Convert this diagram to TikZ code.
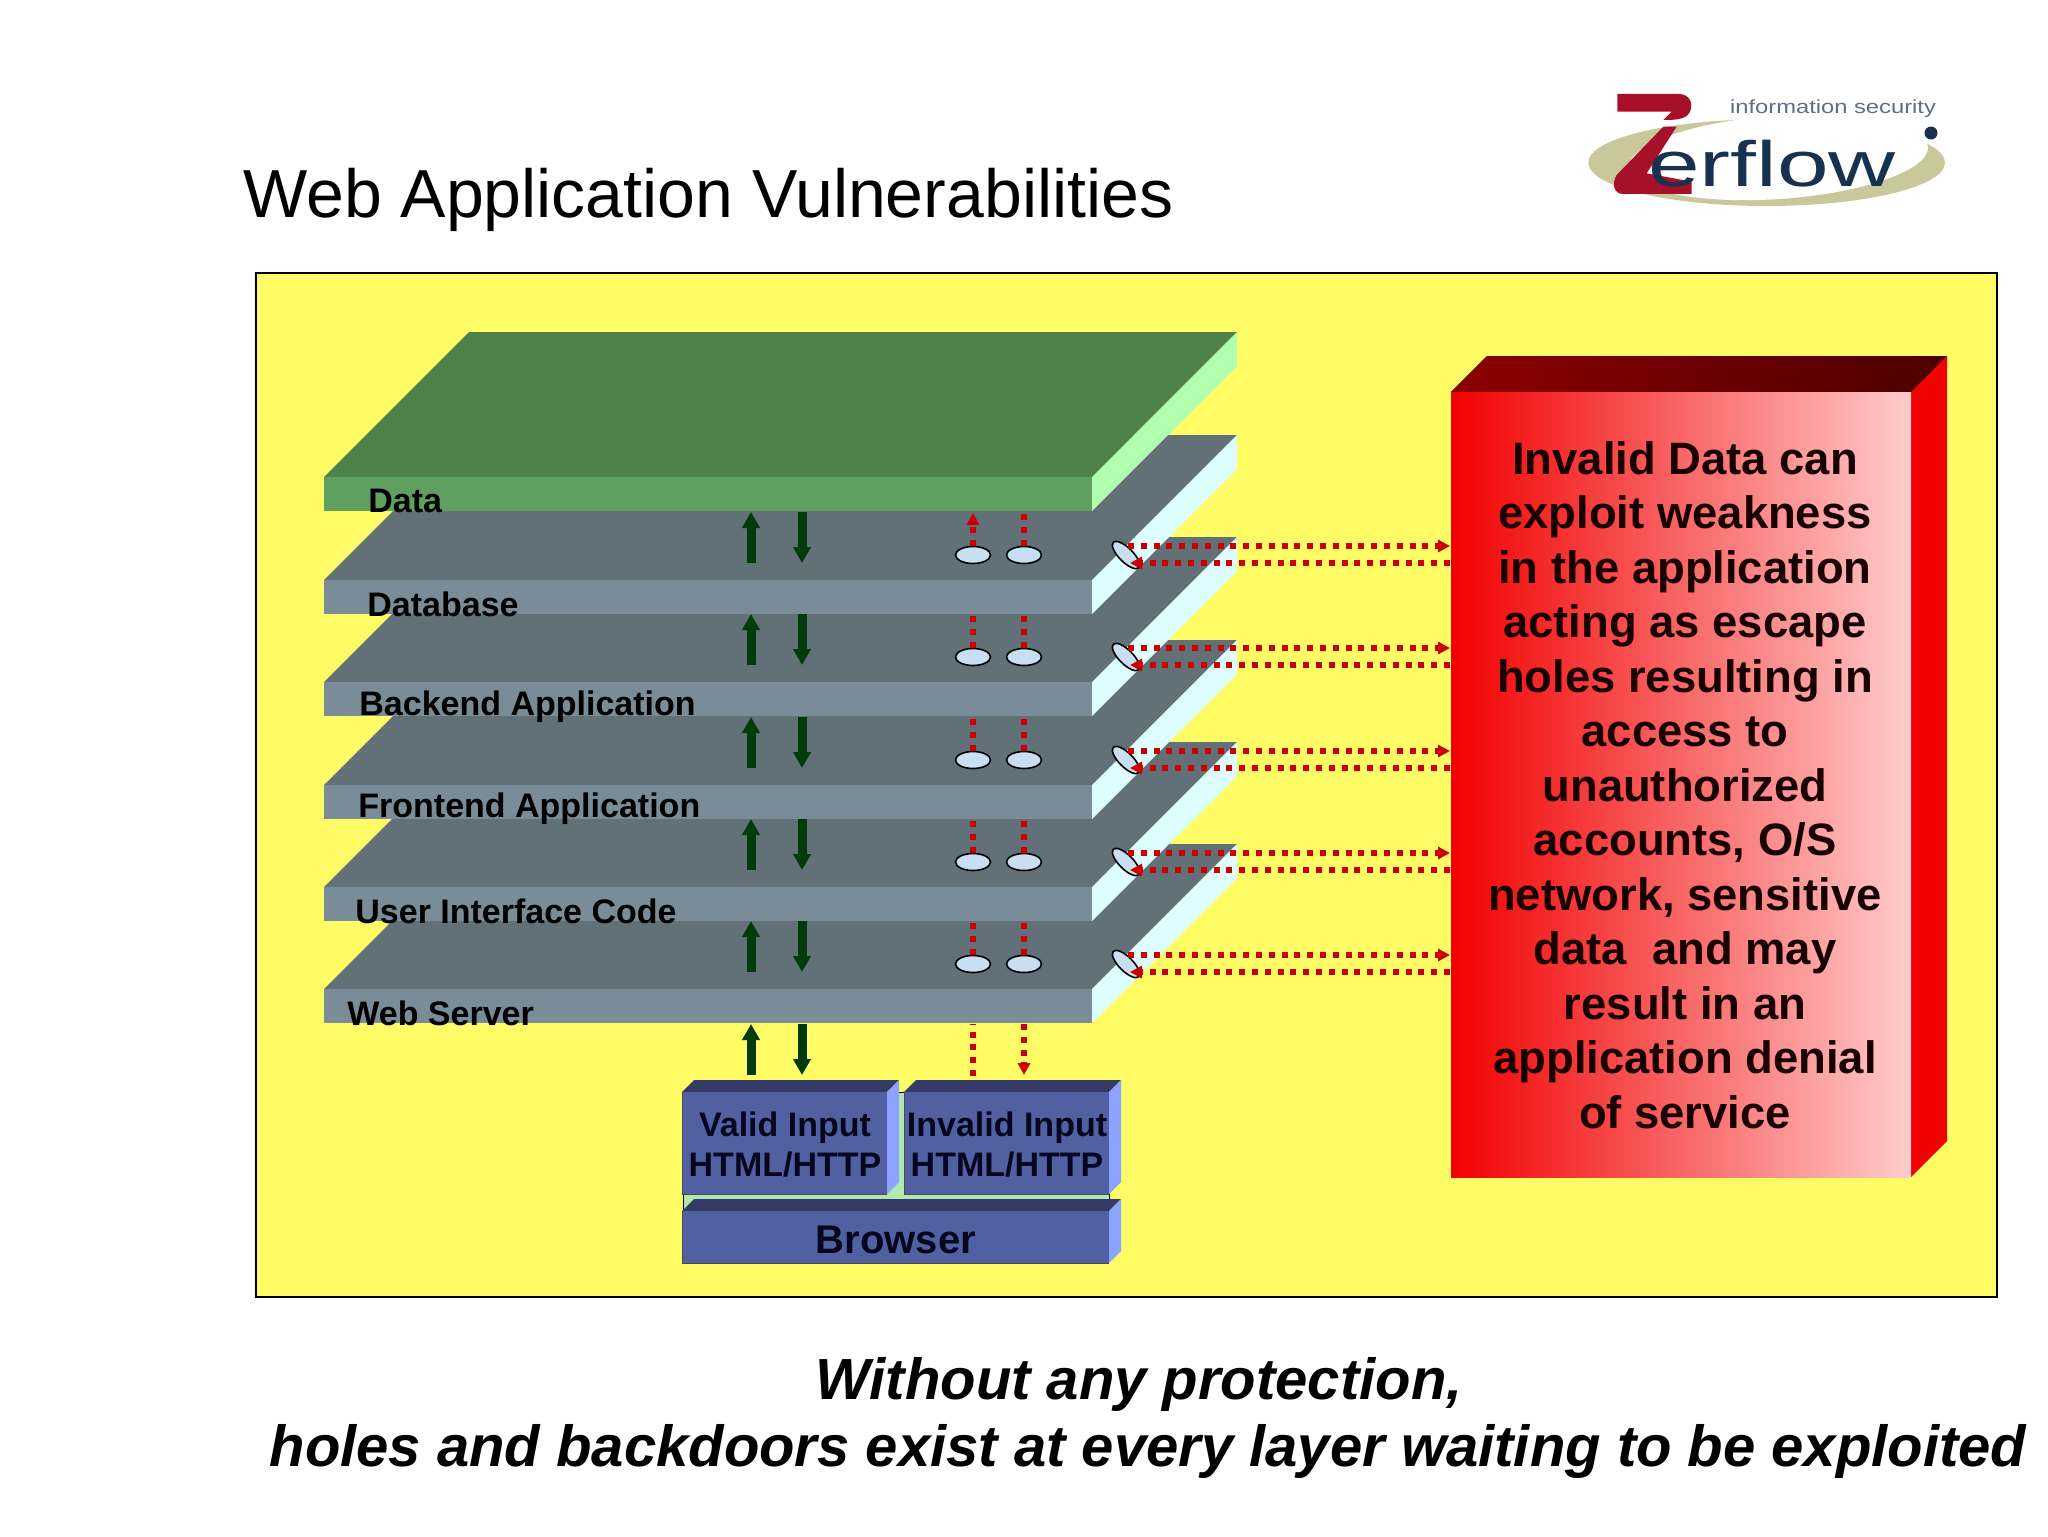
\documentclass[tikz,border=0pt]{standalone}
\usepackage{fontspec}
\setmainfont{Liberation Sans}
\usetikzlibrary{arrows.meta,positioning,shapes.geometric}
\definecolor{panelyellow}{HTML}{FFFC66}
\definecolor{slatetop}{HTML}{627078}
\definecolor{slatefront}{HTML}{7A8C98}
\definecolor{slateside}{HTML}{DDFDFF}
\definecolor{greentop}{HTML}{4E8249}
\definecolor{greenfront}{HTML}{5F9F5F}
\definecolor{greenside}{HTML}{B0FFB0}
\definecolor{goodgreen}{HTML}{003C0A}
\definecolor{badred}{HTML}{CC0000}
\definecolor{holeblue}{HTML}{C8DFF2}
\definecolor{boxfront}{HTML}{5060A0}
\definecolor{boxtop}{HTML}{333B66}
\definecolor{boxside}{HTML}{8CA4FF}
\definecolor{boxgap}{HTML}{B0E8B0}
\definecolor{boxtext}{HTML}{06061E}
\definecolor{logored}{HTML}{A8102A}
\definecolor{logonavy}{HTML}{17324F}
\definecolor{logokhaki}{HTML}{C8C89A}
\begin{document}
\begin{tikzpicture}[
  x=0.5pt, y=-0.5pt,
  layerlabel/.style={anchor=west, inner sep=0pt, font=\fontsize{17}{20}\selectfont\bfseries},
  hole/.style={ellipse, draw=black, line width=0.8pt, fill=holeblue, inner sep=0pt, minimum width=17.5pt, minimum height=8.5pt},
  sidehole/.style={hole, minimum width=18pt, minimum height=7pt, rotate=-45},
  okarr/.style={-{Triangle[length=8pt,width=8.5pt]}, line width=4.5pt, goodgreen},
  badline/.style={line width=3pt, badred, dash pattern=on 3pt off 3.4pt},
  badarr/.style={badline, -{Triangle[length=6pt,width=6pt]}},
  boxlabel/.style={inner sep=0pt, align=center, text=boxtext, font=\fontsize{17}{20}\selectfont\bfseries},
  boxedge/.style={draw=black!70, line width=0.5pt}
]
  \useasboundingbox (0,0) rectangle (2048,1536);
  \fill[white] (0,0) rectangle (2048,1536);
  \node[anchor=base west, inner sep=0pt, font=\fontsize{34}{40}\selectfont] (title) at (243,217) {Web Application Vulnerabilities};
  \draw[black, line width=1pt, fill=panelyellow] (256,273) rectangle (1997,1297);

  \foreach \y in {989,887,785,682,580} {
    \fill[slatetop] (324,\y) -- (469,\y-145) -- (1237,\y-145) -- (1092,\y) -- cycle;
    \fill[slateside] (1092,\y) -- (1237,\y-145) -- (1237,\y-111) -- (1092,\y+34) -- cycle;
    \fill[slatefront] (324,\y) rectangle (1092,\y+34);
  }
  \fill[greentop] (324,477) -- (469,332) -- (1237,332) -- (1092,477) -- cycle;
  \fill[greenside] (1092,477) -- (1237,332) -- (1237,366) -- (1092,511) -- cycle;
  \fill[greenfront] (324,477) rectangle (1092,511);

  \node[layerlabel] (data) at (368,501) {Data};
  \node[layerlabel] (database) at (367,604) {Database};
  \node[layerlabel] (backend) at (359,707) {Backend Application};
  \node[layerlabel] (frontend) at (358,809) {Frontend Application};
  \node[layerlabel] (uicode) at (355,911) {User Interface Code};
  \node[layerlabel] (webserver) at (347,1013) {Web Server};

  \foreach \i/\y in {1/512,2/614,3/717,4/819,5/921,6/1024} {
    \coordinate (upfrom\i) at (751,\y+51);
    \coordinate (upto\i) at (751,\y);
    \coordinate (downfrom\i) at (802,\y);
    \coordinate (downto\i) at (802,\y+51);
    \draw[okarr] (upfrom\i) -- (upto\i);
    \draw[okarr] (downfrom\i) -- (downto\i);
  }

  \node[draw=none, inner sep=0pt] (redface) at (1681,784.5) {};
  \foreach \i/\y in {1/555,2/657,3/760,4/862,5/964} {
    \node[hole] (holea\i) at (973,\y) {};
    \node[hole] (holeb\i) at (1024,\y) {};
    \node[sidehole] (holec\i) at (1126,\y) {};
    \coordinate (redout\i) at (1450,\y-9);
    \coordinate (redin\i) at (1450,\y+8);
    \coordinate (sideout\i) at (1128,\y-9);
    \coordinate (sidein\i) at (1130,\y+8);
    \coordinate (gapa\i) at (973,\y-42);
    \coordinate (gapb\i) at (1024,\y-42);
    \draw[badarr] (sideout\i) -- (redout\i);
    \draw[badarr] (redin\i) -- (sidein\i);
  }
  \draw[badarr] (holea1.north) -- (gapa1);
  \draw[badline] (holeb1.north) -- (gapb1);
  \foreach \i in {2,3,4,5} {
    \draw[badline] (holea\i.north) -- (gapa\i);
    \draw[badline] (holeb\i.north) -- (gapb\i);
  }
  \coordinate (reqa) at (973,1076);
  \coordinate (reqatop) at (973,1024);
  \coordinate (reqb) at (1024,1075);
  \coordinate (reqbtop) at (1024,1024);
  \draw[badline] (reqa) -- (reqatop);
  \draw[badarr] (reqbtop) -- (reqb);

  \draw[black, line width=0.5pt, fill=boxgap] (683,1092) rectangle (1109,1211);
  \foreach \l/\r/\t/\b in {682/887/1092/1194,904/1109/1092/1194,682/1109/1211/1263} {
    \fill[boxtop] (\l,\t) -- (\l+12,\t-12) -- (\r+12,\t-12) -- (\r,\t) -- cycle;
    \fill[boxside] (\r,\t) -- (\r+12,\t-12) -- (\r+12,\b-12) -- (\r,\b) -- cycle;
    \fill[boxfront] (\l,\t) rectangle (\r,\b);
    \draw[boxedge] (\l,\t) -- (\l,\b) -- (\r,\b);
  }
  \node[boxlabel] (validinput) at (785,1145) {Valid Input\\HTML/HTTP};
  \node[boxlabel] (invalidinput) at (1007,1145) {Invalid Input\\HTML/HTTP};
  \node[boxlabel, font=\fontsize{20}{24}\selectfont\bfseries] (browser) at (896,1240) {Browser};

  \fill[left color=red!55!black, right color=red!30!black] (1451,392) -- (1487,356) -- (1947,356) -- (1911,392) -- cycle;
  \fill[red!95!black] (1911,392) -- (1947,356) -- (1947,1141) -- (1911,1177) -- cycle;
  \fill[left color=red!95!black, right color=red!20] (1451,392) rectangle (1911,1177);
  \node[inner sep=0pt, align=center, font=\fontsize{22.7}{27.25}\selectfont\bfseries, text=black!90!red] (invalidnote) at (1685,785) {Invalid Data can\\exploit weakness\\in the application\\acting as escape\\holes resulting in\\access to\\unauthorized\\accounts, O/S\\network, sensitive\\data\ \ and may\\result in an\\application denial\\of service};

  \node[anchor=base, inner sep=0pt, font=\fontsize{29}{34}\selectfont\bfseries\itshape] (protectline) at (1139,1399) {Without any protection,};
  \node[anchor=base, inner sep=0pt, font=\fontsize{29}{34}\selectfont\bfseries\itshape] (holesline) at (1148,1466) {holes and backdoors exist at every layer waiting to be exploited};

  \begin{scope}[shift={(1500,70)}, scale=0.3333]
    \fill[logokhaki] (800,278) ellipse [x radius=535, y radius=130];
    \fill[white] (835,262) ellipse [x radius=450, y radius=125, rotate=4];
    \fill[logored] (352,72) -- (535,72) .. controls (570,72) and (580,100) .. (570,125) .. controls (560,150) and (520,150) .. (490,150) -- (515,125) -- (352,125) -- cycle;
    \fill[logored] (490,170) -- (530,170) -- (440,310) -- (575,335) -- (575,372) -- (370,372) .. controls (340,372) and (335,340) .. (350,315) -- cycle;
    \node[inner sep=0pt, font=\fontsize{32}{36}\selectfont, text=logonavy, xscale=1.45, transform shape=false] (erflow) at (818,300) {\phantom{}};
  \end{scope}
  \node[inner sep=0pt, xscale=1.45, font=\fontsize{32}{36}\selectfont, text=logonavy] (logoword) at (1772,164) {erflow};
  \node[inner sep=0pt, xscale=1.25, font=\fontsize{9.5}{11}\selectfont, text=logonavy!70] (logotag) at (1833,109) {information security};
  \fill[logonavy] (1931,133) circle (6.5);
\end{tikzpicture}
\end{document}
